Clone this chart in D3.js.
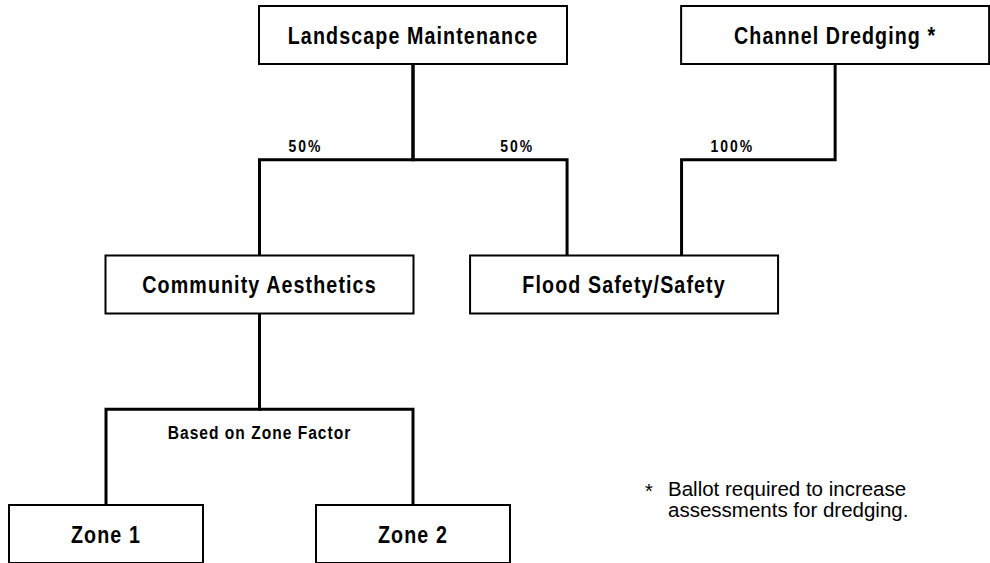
<!DOCTYPE html>
<html>
<head>
<meta charset="utf-8">
<script src="https://cdn.jsdelivr.net/npm/d3@7"></script>
<style>
  body { margin: 0; background: #fff; }
  .box-label { font-family: "Liberation Sans", Arial, Helvetica, sans-serif; font-weight: bold; }
  .note { font-family: "Liberation Sans", Arial, sans-serif; }
</style>
</head>
<body>
<div class="chart"></div>
<script>
// boxes of the diagram
var boxNames = ["Landscape Maintenance", "Channel Dredging *", "Community Aesthetics", "Flood Safety/Safety", "Zone 1", "Zone 2"];
var boxLevel = [0, 0, 1, 1, 2, 2];
var boxColumn = [2, 4.75, 1, 3.375, 0, 2];

// connections parent -> child
var linkFrom = [0, 0, 1, 2, 2];
var linkTo = [2, 3, 3, 4, 5];
var linkLabels = ["50%", "50%", "100%", "", ""];
var splitLabel = "Based on Zone Factor";

var noteLines = ["Ballot required to increase", "assessments for dredging."];

var svgWidth = 990;
var svgHeight = 563;

// the original lettering is a narrow face; squeeze bold sans to match
var narrow = 0.82;

var svg = d3.select(".chart")
  .append("svg")
  .attr("width", svgWidth)
  .attr("height", svgHeight);

// column -> pixel centre, level -> box top
var xScale = d3.scaleLinear().domain([0, 1]).range([106, 259.5]);
var yScale = d3.scaleLinear().domain([0, 2]).range([6, 505]);

var boxHeight = 58;
function boxWidth(i) { return boxLevel[i] === 2 ? 194 : 308; }

var nodes = boxNames.map(function(name, i) {
  return { name: name, cx: xScale(boxColumn[i]), top: yScale(boxLevel[i]), w: boxWidth(i) };
});

// how many parents each child has (spread the attach points)
var parentCount = nodes.map(function(d, i) {
  return linkTo.filter(function(t) { return t === i; }).length;
});

var links = linkFrom.map(function(f, k) {
  var p = nodes[f], c = nodes[linkTo[k]];
  var cx = c.cx;
  if (parentCount[linkTo[k]] > 1) {
    cx = p.cx < c.cx ? c.cx - 57 : c.cx + 57.5;
  }
  var y0 = p.top + boxHeight;
  var bend = (y0 + c.top) / 2;
  return { x0: p.cx, y0: y0, bend: bend, x1: cx, y1: c.top, label: linkLabels[k] };
});

function narrowAt(x, y) {
  return "translate(" + x + "," + y + ") scale(" + narrow + ",1)";
}

// connectors
svg.selectAll("path.link")
  .data(links)
  .enter()
  .append("path")
  .attr("class", "link")
  .attr("d", function(d) {
    return "M" + d.x0 + "," + d.y0 + "V" + d.bend + "H" + d.x1 + "V" + d.y1;
  })
  .attr("fill", "none")
  .attr("stroke", "#000")
  .attr("stroke-width", 3);

// percentage labels, sitting above the bend near the child end
svg.selectAll("text.pct")
  .data(links.filter(function(d) { return d.label; }))
  .enter()
  .append("text")
  .attr("class", "box-label pct")
  .attr("transform", function(d) {
    return narrowAt(d.x1 < d.x0 ? d.x1 + 29 : d.x1 - 33, d.bend - 8);
  })
  .attr("text-anchor", function(d) { return d.x1 < d.x0 ? "start" : "end"; })
  .style("font-size", "17px")
  .style("letter-spacing", (2 / narrow) + "px")
  .text(function(d) { return d.label; });

// shared label under the community split
var commLinks = links.filter(function(d, k) { return linkFrom[k] === 2; });
svg.append("text")
  .attr("class", "box-label")
  .attr("transform", narrowAt(commLinks[0].x0, commLinks[0].bend + 30))
  .attr("text-anchor", "middle")
  .style("font-size", "19px")
  .style("letter-spacing", (1 / narrow) + "px")
  .text(splitLabel);

// boxes
var boxes = svg.selectAll("g.box")
  .data(nodes)
  .enter()
  .append("g")
  .attr("class", "box");

boxes.append("rect")
  .attr("x", function(d) { return d.cx - d.w / 2; })
  .attr("y", function(d) { return d.top; })
  .attr("width", function(d) { return d.w; })
  .attr("height", boxHeight)
  .attr("fill", "#fff")
  .attr("stroke", "#000")
  .attr("stroke-width", 2);

boxes.append("text")
  .attr("class", "box-label")
  .attr("transform", function(d) { return narrowAt(d.cx, d.top + boxHeight / 2 + 8.5); })
  .attr("text-anchor", "middle")
  .style("font-size", "24px")
  .style("letter-spacing", (1.1 / narrow) + "px")
  .text(function(d) { return d.name; });

// footnote
var note = svg.append("g").attr("class", "note");
note.append("text")
  .attr("x", 645)
  .attr("y", 498)
  .style("font-size", "20px")
  .text("*");
note.selectAll("text.line")
  .data(noteLines)
  .enter()
  .append("text")
  .attr("class", "line")
  .attr("x", 668)
  .attr("y", function(d, i) { return 496 + i * 21; })
  .style("font-size", "20.5px")
  .text(function(d) { return d; });
</script>
</body>
</html>
